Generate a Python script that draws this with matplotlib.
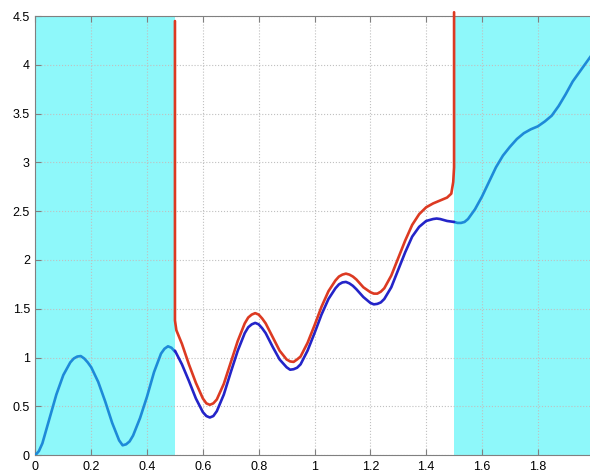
import numpy as np
from matplotlib import pyplot as plt

plt.rcParams['font.family'] = ['Liberation Sans', 'DejaVu Sans']

# light blue curve, left shaded part
x_left = [0, 0.0125, 0.025, 0.05, 0.075, 0.1, 0.125, 0.1375, 0.15, 0.1625,
          0.175, 0.1875, 0.2, 0.225, 0.25, 0.275, 0.3, 0.3125, 0.325, 0.3375,
          0.35, 0.375, 0.4, 0.425, 0.45, 0.4625, 0.475, 0.4875, 0.5]
y_left = [0.0, 0.04, 0.12, 0.37, 0.62, 0.82, 0.95, 0.99, 1.01, 1.015,
          0.99, 0.95, 0.9, 0.75, 0.55, 0.33, 0.15, 0.10, 0.11, 0.14,
          0.2, 0.38, 0.6, 0.85, 1.04, 1.09, 1.115, 1.10, 1.06]

# middle part: blue curve
x_mid = [0.5, 0.525, 0.55, 0.575, 0.6, 0.6125, 0.625, 0.6375, 0.65, 0.675,
         0.7, 0.725, 0.75, 0.7625, 0.775, 0.7875, 0.8, 0.8125, 0.825, 0.85,
         0.875, 0.9, 0.9125, 0.925, 0.9375, 0.95, 0.975, 1.0, 1.025, 1.05,
         1.075, 1.0875, 1.1, 1.1125, 1.125, 1.1375, 1.15, 1.175, 1.2, 1.2125,
         1.225, 1.2375, 1.25, 1.275, 1.3, 1.325, 1.35, 1.375, 1.4, 1.425,
         1.4375, 1.45, 1.475, 1.5]
y_blue = [1.07, 0.93, 0.76, 0.58, 0.44, 0.40, 0.385, 0.40, 0.45, 0.62,
          0.85, 1.07, 1.25, 1.31, 1.34, 1.355, 1.34, 1.30, 1.25, 1.11,
          0.98, 0.9, 0.875, 0.88, 0.895, 0.93, 1.07, 1.25, 1.44, 1.6,
          1.71, 1.75, 1.77, 1.775, 1.76, 1.735, 1.7, 1.62, 1.56, 1.545,
          1.55, 1.565, 1.6, 1.72, 1.9, 2.08, 2.24, 2.34, 2.4, 2.42,
          2.425, 2.42, 2.4, 2.39]

# middle part: red curve (goes vertical at both ends)
x_red = [0.5, 0.5, 0.505, 0.525, 0.55, 0.575, 0.6, 0.6125, 0.625, 0.6375,
         0.65, 0.675, 0.7, 0.725, 0.75, 0.7625, 0.775, 0.7875, 0.8, 0.8125,
         0.825, 0.85, 0.875, 0.9, 0.9125, 0.925, 0.9375, 0.95, 0.975, 1.0,
         1.025, 1.05, 1.075, 1.0875, 1.1, 1.1125, 1.125, 1.1375, 1.15, 1.175,
         1.2, 1.2125, 1.225, 1.2375, 1.25, 1.275, 1.3, 1.325, 1.35, 1.375,
         1.4, 1.425, 1.45, 1.475, 1.49, 1.497, 1.5, 1.5]
y_red = [4.45, 1.38, 1.28, 1.14, 0.93, 0.74, 0.58, 0.53, 0.515, 0.53,
         0.57, 0.73, 0.95, 1.17, 1.35, 1.41, 1.44, 1.455, 1.44, 1.40,
         1.35, 1.21, 1.07, 0.98, 0.96, 0.955, 0.98, 1.01, 1.15, 1.33,
         1.52, 1.68, 1.79, 1.83, 1.85, 1.86, 1.85, 1.83, 1.8, 1.72,
         1.67, 1.655, 1.655, 1.675, 1.71, 1.84, 2.02, 2.2, 2.36, 2.47,
         2.54, 2.58, 2.61, 2.64, 2.68, 2.8, 2.95, 4.54]

# light blue curve, right shaded part
x_right = [1.5, 1.5125, 1.525, 1.5375, 1.55, 1.575, 1.6, 1.625, 1.65, 1.675,
           1.7, 1.725, 1.75, 1.775, 1.8, 1.825, 1.85, 1.875, 1.9, 1.925,
           1.95, 1.975, 2.0]
y_right = [2.39, 2.38, 2.38, 2.39, 2.42, 2.52, 2.65, 2.8, 2.95, 3.07,
           3.16, 3.24, 3.3, 3.34, 3.37, 3.42, 3.48, 3.58, 3.7, 3.83,
           3.93, 4.03, 4.13]

xticks = [0, 0.2, 0.4, 0.6, 0.8, 1, 1.2, 1.4, 1.6, 1.8]
xticklabels = ['0', '0.2', '0.4', '0.6', '0.8', '1', '1.2', '1.4', '1.6', '1.8']
yticks = [0, 0.5, 1, 1.5, 2, 2.5, 3, 3.5, 4, 4.5]
yticklabels = ['0', '0.5', '1', '1.5', '2', '2.5', '3', '3.5', '4', '4.5']

fig = plt.figure(figsize=(5.9, 4.75), dpi=100)
ax = fig.add_axes([0.06, 0.042, 0.94, 0.924])

ax.axvspan(0, 0.5, color='#8ef8fa', zorder=1, lw=0)
ax.axvspan(1.5, 2.0, color='#8ef8fa', zorder=1, lw=0)

kw = dict(lw=1.9, solid_joinstyle='round', solid_capstyle='round')
ax.plot(x_left, y_left, color='#1e8ad8', zorder=3, **kw)
ax.plot(x_right, y_right, color='#1e8ad8', zorder=3, **kw)
ax.plot(x_mid, y_blue, color='#2424c8', zorder=3, **kw)
ax.plot(x_red, y_red, color='#dc3a22', zorder=4, clip_on=False, **kw)

ax.set_xlim(0, 1.987)
ax.set_ylim(0, 4.5)
ax.set_xticks(xticks)
ax.set_xticklabels(xticklabels)
ax.set_yticks(yticks)
ax.set_yticklabels(yticklabels)
ax.tick_params(direction='in', length=4, width=0.8, color='#808080',
               labelsize=9, pad=4, top=True)
ax.grid(True, linestyle=':', color='#c0c0c0', lw=0.8)
for pos in ['left', 'bottom', 'top']:
    ax.spines[pos].set_color('#808080')
ax.spines['right'].set_visible(False)

fig.savefig('out.png', dpi=100)
